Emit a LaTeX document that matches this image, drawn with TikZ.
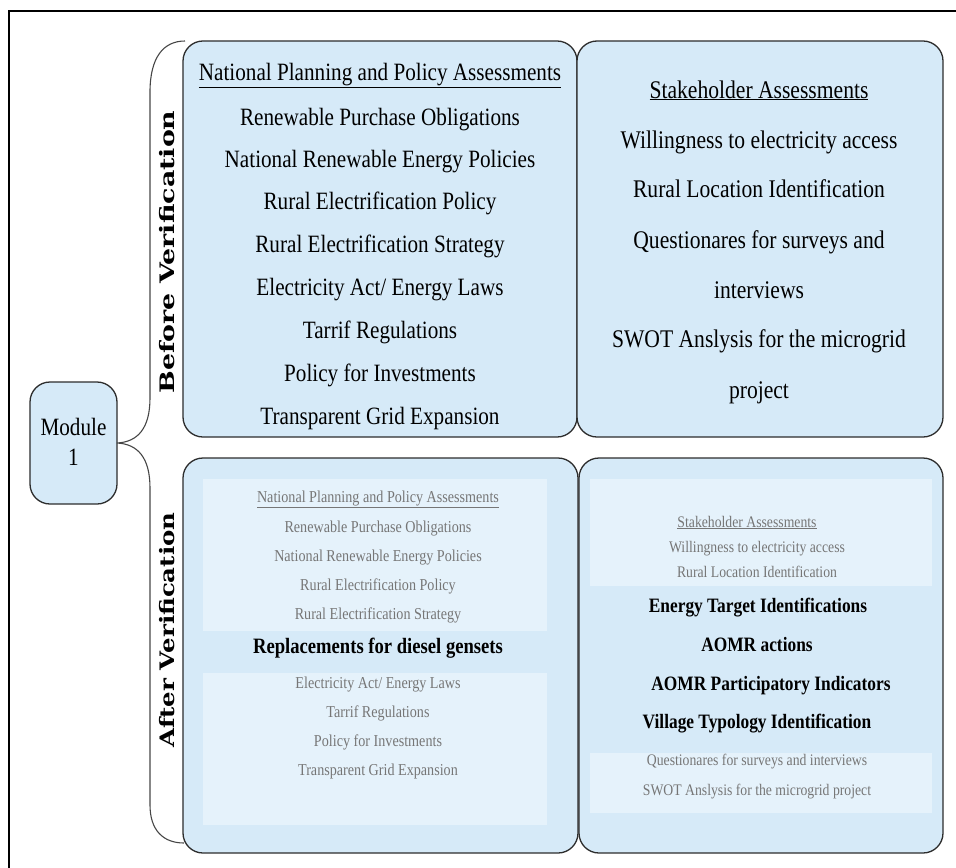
\documentclass[tikz,border=0pt]{standalone}
\usepackage{fontspec}
\setmainfont[FakeStretch=0.85]{Liberation Serif}
\newfontfamily\vlabfont{DejaVu Serif}
\definecolor{boxfill}{RGB}{214,234,248}
\definecolor{innerfill}{RGB}{229,242,251}
\definecolor{greytext}{RGB}{118,118,118}
\definecolor{edgecol}{RGB}{45,45,45}
\definecolor{bracecol}{RGB}{70,70,70}
\tikzset{
  bigbox/.style={draw=edgecol, line width=1.3pt, fill=boxfill, rounded corners=20bp, inner sep=0pt, outer sep=0pt},
  innerbox/.style={fill=innerfill, draw=none, inner sep=0pt, outer sep=0pt},
  brace/.style={draw=bracecol, line width=1.1pt},
  tbig/.style={anchor=base, inner sep=0pt, font=\fontsize{25}{30}\selectfont},
  tbigr/.style={anchor=base, inner sep=0pt, font=\fontsize{25.5}{30}\selectfont},
  tgreyL/.style={anchor=base, inner sep=0pt, text=greytext, font=\fontsize{16.7}{20}\selectfont},
  tgreyR/.style={anchor=base, inner sep=0pt, text=greytext, font=\fontsize{16.2}{20}\selectfont},
  tboldL/.style={anchor=base, inner sep=0pt, font=\fontsize{22}{26}\selectfont\bfseries},
  tboldR/.style={anchor=base, inner sep=0pt, font=\fontsize{20.5}{24}\selectfont\bfseries},
  vlab/.style={rotate=90, inner sep=0pt, font=\fontsize{20}{24}\selectfont\vlabfont\bfseries},
}
\begin{document}
\begin{tikzpicture}[x=1bp,y=-1bp]
\useasboundingbox (0,0) rectangle (956,868);
% outer frame (cropped)
\draw[line width=1.6pt] (9,868) -- (9,11) -- (956,11);

% boxes
\node[bigbox, minimum width=87bp, minimum height=122bp] (mod) at (73.5,443) {};
\node[bigbox, minimum width=394bp, minimum height=396bp] (tl) at (380,239) {};
\node[bigbox, minimum width=366bp, minimum height=396bp] (tr) at (760,239) {};
\node[bigbox, minimum width=395bp, minimum height=395bp] (bl) at (380.5,655.5) {};
\node[bigbox, minimum width=364bp, minimum height=395bp] (br) at (761,655.5) {};

% inner lighter panels
\node[innerbox, minimum width=344bp, minimum height=152bp] (bli1) at (375,555) {};
\node[innerbox, minimum width=344bp, minimum height=152bp] (bli2) at (375,749) {};
\node[innerbox, minimum width=342bp, minimum height=107bp] (bri1) at (761,532.5) {};
\node[innerbox, minimum width=342bp, minimum height=60bp] (bri2) at (761,783) {};

% module text
\node[tbig] (modt1) at (73.5,435) {Module};
\node[tbig] (modt2) at (73.5,465) {1};

% brace
\coordinate (bt) at (185,41);
\coordinate (bb) at (184,843);
\draw[brace] (bt) .. controls (163,41) and (150,58) .. (150,92) -- (150,398)
  .. controls (150,428) and (138,442) .. (mod.east)
  .. controls (138,444) and (150,458) .. (150,488) -- (150,805)
  .. controls (150,830) and (163,843) .. (bb);

% rotated labels
\node[vlab] (bv) at (167.5,252) {\resizebox{283bp}{\height}{Before Verification}};
\node[vlab] (av) at (167.5,630) {\resizebox{235bp}{\height}{After Verification}};

% top-left box text
\node[tbig] (tl0) at (380,80) {\underline{National Planning and Policy Assessments}};
\node[tbig] (tl1) at (380,125) {Renewable Purchase Obligations};
\node[tbig] (tl2) at (380,167) {National Renewable Energy Policies};
\node[tbig] (tl3) at (380,209) {Rural Electrification Policy};
\node[tbig] (tl4) at (380,252) {Rural Electrification Strategy};
\node[tbig] (tl5) at (380,295) {Electricity Act/ Energy Laws};
\node[tbig] (tl6) at (380,338) {Tarrif Regulations};
\node[tbig] (tl7) at (380,381) {Policy for Investments};
\node[tbig] (tl8) at (380,424) {Transparent Grid Expansion};

% top-right box text
\node[tbigr] (tr0) at (759,98) {\underline{Stakeholder Assessments}};
\node[tbigr] (tr1) at (759,148) {Willingness to electricity access};
\node[tbigr] (tr2) at (759,197) {Rural Location Identification};
\node[tbigr] (tr3) at (759,248) {Questionares for surveys and};
\node[tbigr] (tr4) at (759,298) {interviews};
\node[tbigr] (tr5) at (759,347) {SWOT Anslysis for the microgrid};
\node[tbigr] (tr6) at (759,398) {project};

% bottom-left box text
\node[tgreyL] (bl0) at (378,502) {\underline{National Planning and Policy Assessments}};
\node[tgreyL] (bl1) at (378,532) {Renewable Purchase Obligations};
\node[tgreyL] (bl2) at (378,561) {National Renewable Energy Policies};
\node[tgreyL] (bl3) at (378,590) {Rural Electrification Policy};
\node[tgreyL] (bl4) at (378,619) {Rural Electrification Strategy};
\node[tboldL] (bl5) at (378,653) {Replacements for diesel gensets};
\node[tgreyL] (bl6) at (378,688) {Electricity Act/ Energy Laws};
\node[tgreyL] (bl7) at (378,717) {Tarrif Regulations};
\node[tgreyL] (bl8) at (378,746) {Policy for Investments};
\node[tgreyL] (bl9) at (378,775) {Transparent Grid Expansion};

% bottom-right box text
\node[tgreyR] (br0) at (747,527) {\underline{Stakeholder Assessments}};
\node[tgreyR] (br1) at (757,552) {Willingness to electricity access};
\node[tgreyR] (br2) at (757,577) {Rural Location Identification};
\node[tboldR] (br3) at (758,612) {Energy Target Identifications};
\node[tboldR] (br4) at (757,651) {AOMR actions};
\node[tboldR] (br5) at (771,690) {AOMR Participatory Indicators};
\node[tboldR] (br6) at (757,728) {Village Typology Identification};
\node[tgreyR] (br7) at (757,765) {Questionares for surveys and interviews};
\node[tgreyR] (br8) at (757,795) {SWOT Anslysis for the microgrid project};
\end{tikzpicture}
\end{document}
